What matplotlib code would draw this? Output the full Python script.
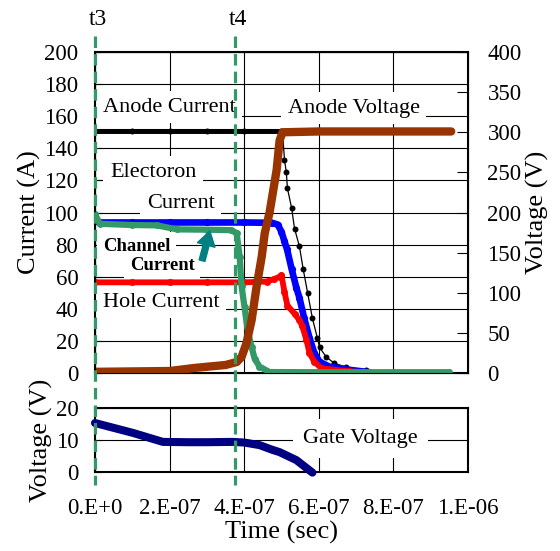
import numpy as np
import matplotlib.pyplot as plt
import matplotlib.transforms as mtransforms
from matplotlib.lines import Line2D

plt.rcParams['font.family'] = ['Liberation Serif', 'DejaVu Serif']

# times in units of 1e-7 s
t_anode_i = [0, 1, 2, 3, 4, 5.0, 5.03, 5.08, 5.13, 5.16, 5.27, 5.35, 5.48, 5.58, 5.70, 5.83, 5.96, 6.02, 6.20, 6.42, 6.74, 7.27]
anode_i = [150.5, 150.5, 150.5, 150.5, 150.5, 150.5, 149.5, 133, 125, 115, 103, 90, 79, 65, 50, 34, 22, 16, 10, 6, 3.7, 1.8]

t_elec = [0, 0.1, 1, 2, 3, 4, 4.75, 4.9, 5.0, 5.08, 5.15, 5.27, 5.40, 5.48, 5.61, 5.75, 5.88, 6.02, 6.28, 6.82, 7.35]
elec_i = [95, 93.8, 93.8, 93.8, 93.8, 93.8, 93.6, 92.5, 88, 82, 77, 65, 53, 47, 34, 22, 12.5, 7, 4, 2, 0.5]

t_hole = [0, 1, 2, 3, 4, 4.6, 4.8, 4.95, 5.0, 5.08, 5.16, 5.35, 5.48, 5.56, 5.67, 5.75, 5.88, 6.07, 6.42, 6.82, 7.3]
hole_i = [56.5, 56.5, 56.5, 56.5, 56.5, 57, 58.5, 60, 61, 50.5, 42, 37, 33, 29, 20.5, 12.5, 7, 3, 2, 1, 0.5]

t_chan = [0, 0.13, 1.0, 1.66, 2.2, 3.0, 3.66, 3.80, 3.88, 3.93, 4.01, 4.09, 4.20, 4.28, 4.41, 4.68, 6, 8, 9.5]
chan_i = [99, 93, 92.2, 92, 89.5, 89.3, 89, 87, 72, 54, 41, 27, 16, 9, 4, 0.6, 0.5, 0.5, 0.5]

t_anode_v = [0, 1, 2.0, 2.7, 3.5, 3.8, 3.93, 4.06, 4.20, 4.33, 4.47, 4.55, 4.68, 4.87, 4.95, 5.03, 6, 7, 8, 9.55]
anode_v = [1.5, 2, 2.5, 6.5, 10, 13.7, 20, 37, 66, 107, 145, 174, 200, 253, 290, 300, 301, 301, 301, 301]

t_gate = [0, 1.02, 1.82, 2.5, 3.0, 3.69, 4.0, 4.41, 4.76, 4.95, 5.40, 5.83]
gate_v = [15.3, 12.2, 9.4, 9.3, 9.3, 9.4, 9.2, 8.4, 6.9, 6.2, 3.7, -0.2]

xticks = [0, 2e-7, 4e-7, 6e-7, 8e-7, 1e-6]
xticklabels = ['0.E+0', '2.E-07', '4.E-07', '6.E-07', '8.E-07', '1.E-06']

marks_t = [0, 3.75e-7]
marks_lbl = ['t3', 't4']

s = 1e-7
green = '#339966'

fig = plt.figure(figsize=(5.6, 5.51), dpi=100)
ax = fig.add_axes([0.1696, 0.3230, 0.6661, 0.5826])
ax2 = ax.twinx()
axg = fig.add_axes([0.1696, 0.1434, 0.6661, 0.1162])

# ---- currents
ax.set_xlim(0, 1e-6)
ax.set_ylim(0, 200)
ax.set_xticks(xticks)
ax.set_yticks(np.arange(0, 201, 20))
ax.tick_params(axis='x', labelbottom=False, length=0)
ax.tick_params(axis='y', direction='in', length=5, pad=12, labelsize=16.5)
ax.grid(True, color='black', lw=0.8)
ax.set_axisbelow(True)
for sp in ax.spines.values():
    sp.set_linewidth(1.5)
ax.set_ylabel('Current (A)', fontsize=19, labelpad=2)

ta = np.array(t_anode_i) * s
ia = np.array(anode_i)
flat = ia >= 149
ax.plot(ta[flat], ia[flat], color='black', lw=3.6, zorder=4)
ax.plot(ta, ia, color='black', lw=0.9, marker='o', ms=4.3, mec='none', zorder=4)

ax.plot(np.array(t_elec) * s, elec_i, color='#0000ff', lw=4.8, marker='o', ms=5.2,
        mec='none', solid_capstyle='round', zorder=5)
ax.plot(np.array(t_hole) * s, hole_i, color='#ff0000', lw=4.2, marker='o', ms=5.0,
        mec='none', solid_capstyle='round', zorder=5)
ax.plot(np.array(t_chan) * s, chan_i, color=green, lw=4.5, marker='o', ms=5.0,
        mec='none', solid_capstyle='round', zorder=6)

box = dict(boxstyle='square,pad=0.3', fc='white', ec='none')
ax.text(0.0214e-6, 165.7, 'Anode Current', fontsize=16, ha='left', va='center', bbox=box, zorder=3)
ax.text(0.517e-6, 165.1, 'Anode Voltage', fontsize=16, ha='left', va='center', bbox=box, zorder=3)
ax.text(0.040e-6, 125.2, 'Electoron', fontsize=16, ha='left', va='center', bbox=box, zorder=3)
ax.text(0.139e-6, 105.9, 'Current', fontsize=16, ha='left', va='center', bbox=box, zorder=3)
ax.text(0.0214e-6, 79.1, 'Channel', fontsize=13.4, fontweight='bold', ha='left', va='center', bbox=box, zorder=3)
ax.text(0.094e-6, 67.3, 'Current', fontsize=13.4, fontweight='bold', ha='left', va='center', bbox=box, zorder=3)
ax.text(0.0214e-6, 44.2, 'Hole Current', fontsize=16, ha='left', va='center', bbox=box, zorder=3)
ax.annotate('', xy=(0.308e-6, 88.5), xytext=(0.287e-6, 70.0),
            arrowprops=dict(arrowstyle='simple,head_width=1.0,head_length=0.8,tail_width=0.33',
                            color='#008080', mutation_scale=13, shrinkA=0, shrinkB=0),
            zorder=7)

# ---- anode voltage on the right axis
ax2.set_ylim(0, 400)
ax2.set_yticks(np.arange(0, 401, 50))
ax2.tick_params(axis='y', direction='in', length=8, pad=14, labelsize=16.5)
ax2.set_ylabel('Voltage (V)', fontsize=19, labelpad=3)
ax2.plot(np.array(t_anode_v) * s, anode_v, color='#993300', lw=6,
         solid_capstyle='round', solid_joinstyle='round')

# ---- gate voltage
axg.set_xlim(0, 1e-6)
axg.set_ylim(0, 20)
axg.set_xticks(xticks)
axg.set_xticklabels(xticklabels)
axg.set_yticks([0, 10, 20])
axg.tick_params(axis='x', length=0, pad=19, labelsize=16.5)
axg.tick_params(axis='y', direction='in', length=5, pad=12, labelsize=16.5)
axg.grid(True, color='black', lw=0.8)
axg.set_axisbelow(True)
for sp in axg.spines.values():
    sp.set_linewidth(1.5)
axg.set_xlabel('Time (sec)', fontsize=19, labelpad=1)
axg.set_ylabel('Voltage (V)', fontsize=19, labelpad=2)
axg.plot(np.array(t_gate) * s, gate_v, color='#000080', lw=5.8, solid_capstyle='round',
         clip_on=False, zorder=4)
axg.text(0.558e-6, 10.6, 'Gate Voltage', fontsize=16, ha='left', va='center',
         bbox=dict(boxstyle='square,pad=0.45', fc='white', ec='none'), zorder=3)

# ---- t3 / t4 markers spanning both panels
trans = mtransforms.blended_transform_factory(ax.transData, fig.transFigure)
for tm, lbl in zip(marks_t, marks_lbl):
    fig.add_artist(Line2D([tm, tm], [0.9347, 0.1198], transform=trans, color=green,
                          lw=2.3, linestyle=(0, (3.6, 1.9)), zorder=10))
    fig.text(tm + 0.008e-6, 0.9655, lbl, transform=trans, fontsize=17, ha='center', va='center')

fig.savefig('out.png', dpi=100)
